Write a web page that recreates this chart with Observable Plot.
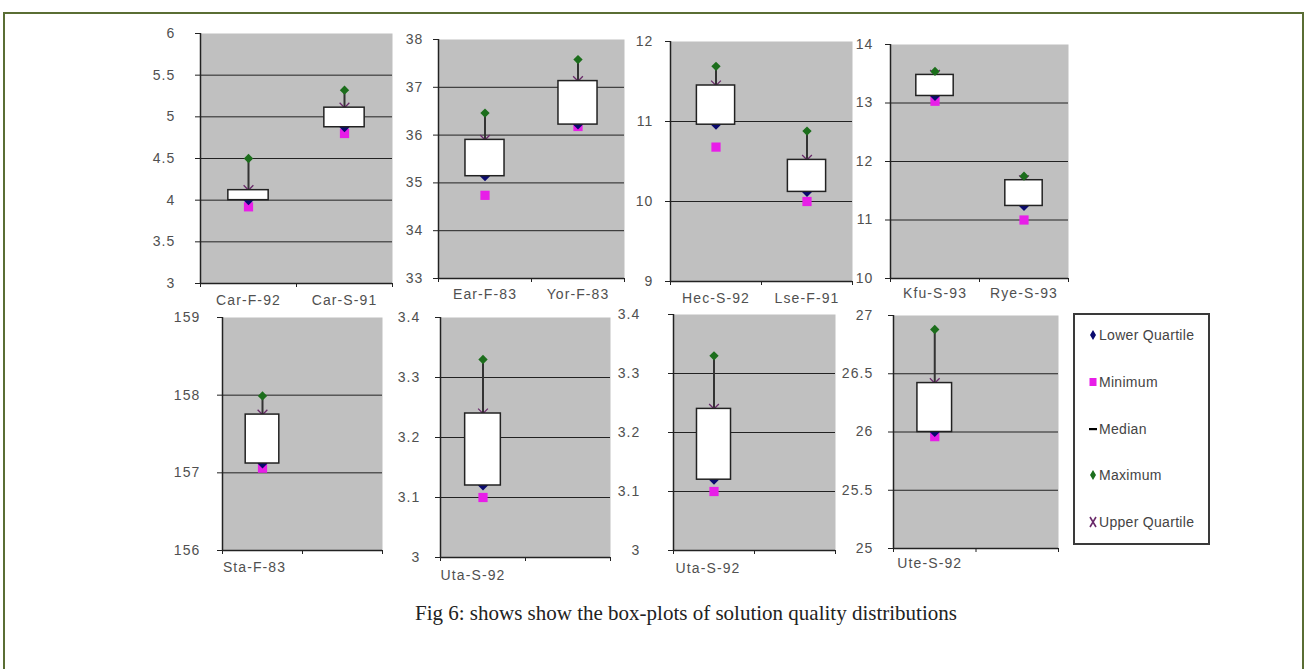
<!DOCTYPE html>
<html>
<head>
<meta charset="utf-8">
<script src="https://cdn.jsdelivr.net/npm/d3@7"></script>
<script src="https://cdn.jsdelivr.net/npm/@observablehq/plot@0.6"></script>
<style>
  html, body { margin: 0; padding: 0; background: #fff; }
  #page { position: relative; width: 1309px; height: 669px; overflow: hidden; font-family: "Liberation Sans", Arial, sans-serif; }
  #frame { position: absolute; left: 3px; top: 12px; width: 1301px; height: 700px; border: 2px solid #5a6e34; box-sizing: border-box; }
  .panel { position: absolute; }
  .panel svg { overflow: visible; }
  #legend { position: absolute; left: 1073px; top: 313px; width: 137px; height: 232px; border: 2px solid #3a3a3a; box-sizing: border-box; background: #fff; }
  .li { position: absolute; left: 14px; font-family: "Liberation Sans", Arial, sans-serif; font-size: 14px; letter-spacing: 0.3px; color: #444; display: flex; align-items: center; white-space: nowrap; }
  .li svg { margin-right: 2px; }
  #caption { position: absolute; left: 0; width: 1372px; top: 601px; text-align: center; font-family: "Liberation Serif", "Times New Roman", serif; font-size: 21px; color: #222; }
</style>
</head>
<body>
<div id="page">
  <div id="frame"></div>
  <div id="legend"></div>
  <div id="caption">Fig 6: shows show the box-plots of solution quality distributions</div>
</div>
<script>
// ---- data: one entry per box ----
const boxLabels = ["Car-F-92","Car-S-91","Ear-F-83","Yor-F-83","Hec-S-92","Lse-F-91","Kfu-S-93","Rye-S-93","Sta-F-83","Uta-S-92","Uta-S-92","Ute-S-92"];
const boxPanel  = [0,0,1,1,2,2,3,3,4,5,6,7];
const boxSlot   = [0,1,0,1,0,1,0,1,0,0,0,0];
const mins      = [3.92, 4.80, 34.74, 36.18, 10.68, 10.00, 13.03, 11.00, 157.06, 3.10, 3.10, 25.96];
const q1s       = [4.00, 4.875, 35.14, 36.22, 10.96, 10.12, 13.12, 11.24, 157.12, 3.12, 3.12, 26.00];
const medians   = [4.05, 5.00, 35.50, 36.65, 11.20, 10.30, 13.30, 11.45, 157.45, 3.18, 3.18, 26.20];
const q3s       = [4.12, 5.11, 35.90, 37.13, 11.45, 10.52, 13.48, 11.68, 157.75, 3.24, 3.24, 26.42];
const maxs      = [4.50, 5.32, 36.46, 37.58, 11.69, 10.88, 13.54, 11.75, 157.99, 3.33, 3.33, 26.88];

// ---- panel axes ----
const panelDomains = [[3,6],[33,38],[9,12],[10,14],[156,159],[3,3.4],[3,3.4],[25,27]];
const panelTicks = [
  [3,3.5,4,4.5,5,5.5,6],
  [33,34,35,36,37,38],
  [9,10,11,12],
  [10,11,12,13,14],
  [156,157,158,159],
  [3,3.1,3.2,3.3,3.4],
  [3,3.1,3.2,3.3,3.4],
  [25,25.5,26,26.5,27]
];

// ---- panel layout (plot-area rectangles on the page, label offsets) ----
const panelLayout = [
  {left:200, right:392, top:33,  bottom:283, labelDy:17, gap:25},
  {left:438, right:624, top:39,  bottom:278, labelDy:16, gap:15},
  {left:670, right:852, top:41,  bottom:281, labelDy:17, gap:17},
  {left:890, right:1068, top:44, bottom:278, labelDy:15, gap:17},
  {left:222, right:382, top:317, bottom:550, labelDy:17, gap:22, labelDx:-8},
  {left:440, right:610, top:317, bottom:557, labelDy:18, gap:20, labelDx:-10},
  {left:673, right:835, top:314, bottom:550, labelDy:18, gap:33, labelDx:-6},
  {left:893, right:1058, top:315, bottom:548, labelDy:15, gap:20, labelDx:-5}
];

const boxes = boxLabels.map((label, i) => ({
  label, panel: boxPanel[i], slot: boxSlot[i],
  min: mins[i], q1: q1s[i], median: medians[i], q3: q3s[i], max: maxs[i]
}));

const mL = 60, mR = 0, mT = 8, mB = 40;
const halfBox = 0.21;
const page = document.getElementById("page");
const textStyle = {fontFamily: "Liberation Sans, Arial, sans-serif", fontSize: 14, letterSpacing: "1.1px"};

panelLayout.forEach((L, p) => {
  const data = boxes.filter(d => d.panel === p);
  const [y0, y1] = panelDomains[p];
  const ticks = panelTicks[p];
  const w = L.right - L.left + mL + mR;
  const h = L.bottom - L.top + mT + mB;
  const chart = Plot.plot({
    width: w, height: h,
    marginLeft: mL, marginRight: mR, marginTop: mT, marginBottom: mB,
    style: {background: "transparent", fontFamily: textStyle.fontFamily, fontSize: "14px", color: "#555", letterSpacing: textStyle.letterSpacing},
    x: {domain: [0, 2], axis: null},
    y: {domain: [y0, y1], axis: null},
    marks: [
      Plot.frame({fill: "#c0c0c0", stroke: null}),
      Plot.ruleY(ticks.filter(t => t > y0 && t < y1), {stroke: "#222", strokeWidth: 1}),
      Plot.axisY({ticks, tickSize: 5, tickPadding: L.gap - 5, stroke: "#222", fill: "#505050", fontSize: 14,
                  tickFormat: d => String(+d.toFixed(2))}),
      Plot.axisX({ticks: [0, 1, 2], tickSize: 4, tickFormat: () => "", stroke: "#222"}),
      Plot.ruleX([0], {stroke: "#222", strokeWidth: 1.5}),
      Plot.ruleY([y0], {stroke: "#222", strokeWidth: 1.5}),
      // whisker line from lower quartile up to maximum
      Plot.ruleX(data, {x: d => d.slot + 0.5, y1: "q1", y2: "max", stroke: "#333", strokeWidth: 2}),
      Plot.dot(data, {x: d => d.slot + 0.5, y: "min", symbol: "square", r: 5.2, fill: "#e81ee8", stroke: null}),
      Plot.dot(data, {x: d => d.slot + 0.5, y: "q1", symbol: "diamond2", r: 4.5, fill: "#0a0a6e", stroke: null}),
      Plot.ruleY(data, {x1: d => d.slot + 0.5 - 0.08, x2: d => d.slot + 0.5 + 0.08, y: "median", stroke: "#000", strokeWidth: 2}),
      Plot.dot(data, {x: d => d.slot + 0.5, y: "q3", symbol: "times", r: 4.5, stroke: "#6a2a6a", strokeWidth: 1.3}),
      Plot.rect(data, {x1: d => d.slot + 0.5 - halfBox, x2: d => d.slot + 0.5 + halfBox, y1: "q1", y2: "q3",
                       fill: "#fff", stroke: "#222", strokeWidth: 1.5}),
      Plot.dot(data, {x: d => d.slot + 0.5, y: "max", symbol: "diamond2", r: 4.2, fill: "#1c6e1c", stroke: null}),
      Plot.text(data, {x: d => d.slot + 0.5, text: "label", frameAnchor: "bottom", dy: L.labelDy, dx: L.labelDx || 0,
                       fill: "#505050", fontSize: 14, lineAnchor: "middle"})
    ]
  });
  const div = document.createElement("div");
  div.className = "panel";
  div.style.left = (L.left - mL) + "px";
  div.style.top = (L.top - mT) + "px";
  div.appendChild(chart);
  page.appendChild(div);
});

// ---- legend ----
const legendItems = [
  {label: "Lower Quartile", sym: "diamond", color: "#0a0a6e"},
  {label: "Minimum", sym: "square", color: "#e81ee8"},
  {label: "Median", sym: "dash", color: "#000"},
  {label: "Maximum", sym: "diamond", color: "#1c6e1c"},
  {label: "Upper Quartile", sym: "times", color: "#6a2a6a"}
];
const legend = document.getElementById("legend");
legendItems.forEach((it, i) => {
  const row = document.createElement("div");
  row.className = "li";
  row.style.top = (12 + i * 46.8) + "px";
  let shape;
  if (it.sym === "diamond") shape = `<path d="M4,1 L7,6 L4,11 L1,6 Z" fill="${it.color}"/>`;
  else if (it.sym === "square") shape = `<rect x="0.5" y="2" width="7" height="8" fill="${it.color}"/>`;
  else if (it.sym === "dash") shape = `<rect x="0" y="5" width="8" height="2.2" fill="${it.color}"/>`;
  else shape = `<path d="M1,1 L7,11 M7,1 L1,11" stroke="${it.color}" stroke-width="1.6"/>`;
  row.innerHTML = `<svg width="8" height="12">${shape}</svg><span>${it.label}</span>`;
  legend.appendChild(row);
});
</script>
</body>
</html>
